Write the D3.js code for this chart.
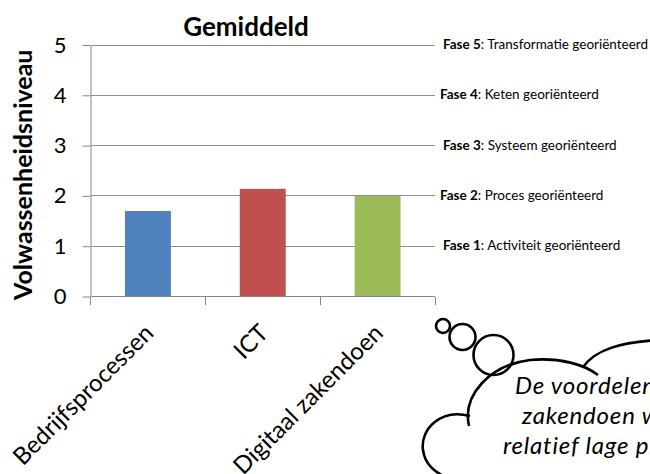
<!DOCTYPE html>
<html><head><meta charset="utf-8">
<script src="https://cdn.jsdelivr.net/npm/d3@7"></script>
<style>body{margin:0;background:#fff}</style>
</head><body><svg id="c" width="650" height="474" xmlns="http://www.w3.org/2000/svg"></svg>
<script>
const categories = ["Bedrijfsprocessen", "ICT", "Digitaal zakendoen"];
const values = [1.70, 2.14, 2.0];
const barColors = ["#4F81BD", "#C0504D", "#9BBB59"];
const yTicks = [0, 1, 2, 3, 4, 5];
const phaseLevels = [5, 4, 3, 2, 1];
const phaseNames = ["Transformatie georiënteerd", "Keten georiënteerd", "Systeem georiënteerd", "Proces georiënteerd", "Activiteit georiënteerd"];
const chartTitle = "Gemiddeld";
const yTitle = "Volwassenheidsniveau";
const cloudLines = ["De voordelen van digitaal", "zakendoen worden door de", "relatief lage prioriteit nog", "niet ingezien."];

const FONT = "Lato, 'Open Sans', sans-serif";
const svg = d3.select("#c");
const L = 90.5, R = 435, T = 45, B = 296.5;

const x = d3.scaleBand().domain(categories).range([L, R]).paddingInner(0.6).paddingOuter(0.3);
const y = d3.scaleLinear().domain([0, 5]).range([B, T]);
const gap = (x.step() - x.bandwidth()) / 2;

// gridlines
svg.append("g").selectAll("line").data(yTicks.filter(d => d > 0)).join("line")
  .attr("x1", L).attr("x2", R).attr("y1", d => y(d)).attr("y2", d => y(d))
  .attr("stroke", "#8e8e8e").attr("stroke-width", 1).attr("shape-rendering", "crispEdges");

// bars
svg.append("g").selectAll("rect").data(categories).join("rect")
  .attr("x", d => x(d)).attr("width", x.bandwidth())
  .attr("y", (d, i) => y(values[i])).attr("height", (d, i) => y(0) - y(values[i]))
  .attr("fill", (d, i) => barColors[i]);

// y axis
const yAxis = svg.append("g").attr("transform", `translate(${L},0)`)
  .call(d3.axisLeft(y).tickValues(yTicks).tickFormat(d3.format("d")).tickSize(8).tickSizeOuter(0).tickPadding(16));
yAxis.select(".domain").attr("stroke", "#868686");
yAxis.selectAll(".tick line").attr("stroke", "#868686");
yAxis.selectAll(".tick text").attr("font-family", FONT).attr("font-size", 22).attr("fill", "#000");

// x axis
const xBounds = categories.map(c => x(c) - gap).concat([x(categories[categories.length - 1]) + x.bandwidth() + gap]);
svg.append("line").attr("x1", L).attr("x2", R).attr("y1", B).attr("y2", B).attr("stroke", "#868686").attr("shape-rendering", "crispEdges");
svg.append("g").selectAll("line").data(xBounds).join("line")
  .attr("x1", d => d).attr("x2", d => d).attr("y1", B).attr("y2", B + 8)
  .attr("stroke", "#868686").attr("shape-rendering", "crispEdges");
svg.append("g").selectAll("text").data(categories).join("text")
  .attr("transform", d => `translate(${x(d) + x.bandwidth() / 2 + 7},${B + 38}) rotate(-45)`)
  .attr("text-anchor", "end").attr("font-family", FONT).attr("font-size", 24).text(d => d);

// titles
svg.append("text").attr("x", 246).attr("y", 36).attr("text-anchor", "middle")
  .attr("font-family", FONT).attr("font-weight", "bold").attr("font-size", 26).text(chartTitle);
svg.append("text").attr("transform", `translate(32,${(T + B) / 2 + 4}) rotate(-90)`).attr("text-anchor", "middle")
  .attr("font-family", FONT).attr("font-weight", "bold").attr("font-size", 25).text(yTitle);

// phase labels
const ph = svg.append("g").selectAll("text").data(phaseLevels).join("text")
  .attr("x", d => d % 2 ? 443 : 440).attr("y", d => y(d) + 4)
  .attr("font-family", FONT).attr("font-size", 13.5);
ph.append("tspan").attr("font-weight", "bold").text(d => "Fase " + d);
ph.append("tspan").text((d, i) => ": " + phaseNames[i]);

// thought cloud
const cg = svg.append("g").attr("fill", "none").attr("stroke", "#000").attr("stroke-width", 2.6);
[[443, 326, 7], [462.5, 337, 13], [493.5, 355, 20]].forEach(c =>
  cg.append("circle").attr("cx", c[0]).attr("cy", c[1]).attr("r", c[2]));
const p1 = d3.path(); p1.moveTo(469, 426); p1.bezierCurveTo(462, 395, 490, 365, 530, 360); p1.bezierCurveTo(560, 357, 585, 365, 598, 375);
const p2 = d3.path(); p2.moveTo(583, 367); p2.bezierCurveTo(595, 350, 620, 342, 660, 340);
const p3 = d3.path(); p3.moveTo(470, 416); p3.bezierCurveTo(440, 408, 420, 430, 423, 450); p3.bezierCurveTo(425, 465, 435, 472, 447, 478);
[p1, p2, p3].forEach(p => cg.append("path").attr("d", p.toString()));

const cx0 = [515, 522, 503, 545];
const cy0 = [394, 424, 454, 491];
svg.append("g").selectAll("text").data(cloudLines).join("text")
  .attr("x", (d, i) => cx0[i]).attr("y", (d, i) => cy0[i])
  .attr("font-family", FONT).attr("font-style", "italic").attr("font-size", 24)
  .attr("letter-spacing", 0.8).text(d => d);
</script></body></html>
